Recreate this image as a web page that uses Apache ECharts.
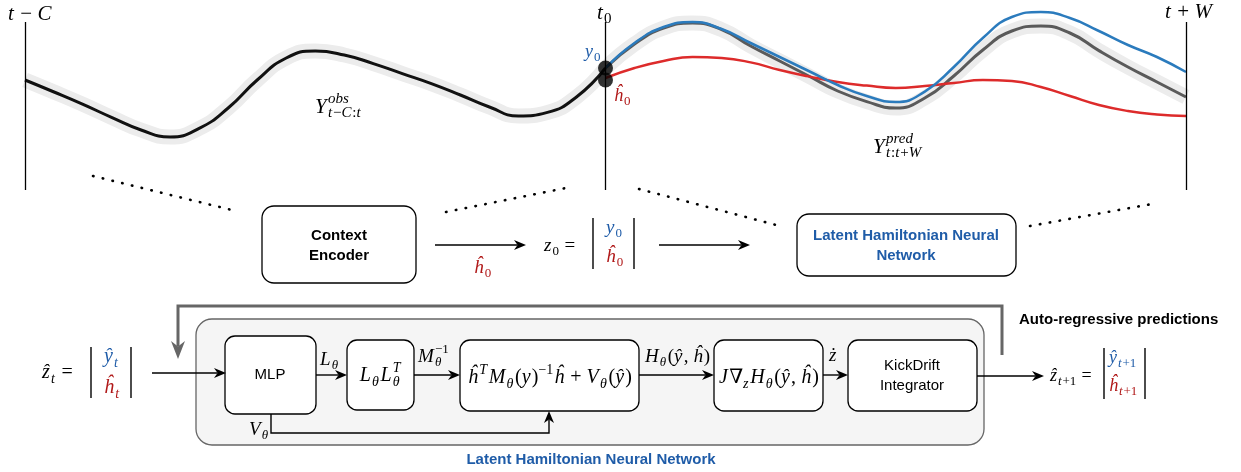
<!DOCTYPE html>
<html>
<head>
<meta charset="utf-8">
<title>Latent Hamiltonian Neural Network</title>
<script src="https://cdn.jsdelivr.net/npm/echarts@6/dist/echarts.min.js"></script>
<style>
  html, body { margin: 0; padding: 0; background: #fff; }
  #chart { width: 1241px; height: 472px; }
</style>
</head>
<body>
<div id="chart"></div>
<script>
// time runs from t-C (-100) over t0 (0) to t+W (100), sampled every 5 steps
var obsT   = [-100, -95, -90, -85, -80, -75, -70, -65, -60, -55, -50, -45, -40, -35, -30, -25, -20, -15, -10, -5, 0];
var obsY   = [0, -0.3, -0.61, -0.94, -1.25, -1.425, -1.21, -0.7, 0, 0.55, 0.725, 0.625, 0.41, 0.16, -0.09, -0.375, -0.675, -0.9, -0.81, -0.425, 0.3];

var predT  = [0, 5, 10, 15, 20, 25, 30, 35, 40, 45, 50, 55, 60, 65, 70, 75, 80, 85, 90, 95, 100];
var truthY = [0.3, 0.9, 1.3, 1.425, 1.26, 0.85, 0.475, 0.1, -0.275, -0.54, -0.7, -0.45, 0.1, 0.75, 1.225, 1.35, 1.175, 0.735, 0.325, -0.05, -0.425];
var blueY  = [0.3, 0.925, 1.325, 1.45, 1.275, 0.925, 0.575, 0.225, -0.125, -0.4, -0.55, -0.29, 0.325, 1.05, 1.575, 1.7, 1.55, 1.225, 0.875, 0.575, 0.2];
var redY   = [0.05, 0.3, 0.475, 0.575, 0.55, 0.44, 0.25, 0.09, -0.05, -0.14, -0.2, -0.15, -0.075, 0, -0.025, -0.175, -0.4, -0.625, -0.775, -0.86, -0.9];

var startT = [0, 0];
var startY = [0.3, 0.0];          // y0 and h0 at t0
var markerT = [-100, 0, 100];     // t-C, t0, t+W
var markerTop = 1.45, markerBottom = -2.75;

var BLUE = '#2b7bbd', RED = '#dd2b2b', GREY = '#5a5a5a';
var TBLUE = '#1f5ca8', TRED = '#b01818';
var SERIF = '"Liberation Serif","DejaVu Serif",serif';
var SANS = '"Liberation Sans",Arial,sans-serif';

function zip(a, b) { return a.map(function (v, i) { return [v, b[i]]; }); }

// --- tiny math-label layout (letters italic, rest upright) ---
var ctx = document.createElement('canvas').getContext('2d');
function mw(font, s) { ctx.font = font; return ctx.measureText(s).width; }
function runs(s) {
  var out = [], cur = '', curIt = null;
  for (var ch of s) {
    var it = /[A-Za-z\u0370-\u03ff\u00c0-\u024f\u1e00-\u1eff]/.test(ch);
    if (curIt === null || it === curIt) { cur += ch; curIt = it; }
    else { out.push([cur, curIt]); cur = ch; curIt = it; }
  }
  if (cur) out.push([cur, curIt]);
  return out;
}
function fontOf(it, size) { return (it ? 'italic ' : '') + size + 'px ' + SERIF; }
function math(x, y, parts, size, color, align) {
  var items = [], cx = 0, small = Math.round(size * 0.7);
  function put(s, sz, dy) {
    var w = 0, rs = runs(s);
    rs.forEach(function (r, i) {
      var f = fontOf(r[1], sz);
      items.push({ t: r[0], f: f, x: cx + w, dy: dy });
      w += mw(f, r[0]);
      if (r[1]) w += sz * 0.06;   // italic correction
    });
    return w;
  }
  parts.forEach(function (p) {
    if (typeof p === 'string') { cx += put(p, size, 0); }
    else {
      var w1 = p.p ? put(p.p, small, -0.4 * size) : 0;
      var w2 = p.b ? put(p.b, small, 0.3 * size) : 0;
      cx += Math.max(w1, w2) + size * 0.04;
    }
  });
  var x0 = align === 'center' ? x - cx / 2 : x;
  return items.map(function (it) {
    return { type: 'text', x: x0 + it.x, y: y + it.dy, silent: true, z: 20,
      style: { text: it.t, font: it.f, fill: color || '#000', align: 'left', verticalAlign: 'middle' } };
  });
}
function label(x, y, s, font, color, align) {
  return { type: 'text', x: x, y: y, silent: true, z: 20,
    style: { text: s, font: font, fill: color || '#000', align: align || 'center', verticalAlign: 'middle' } };
}
function box(x, y, w, h, r, fill, stroke, lw) {
  return { type: 'rect', silent: true, z: 5, shape: { x: x, y: y, width: w, height: h, r: r },
    style: { fill: fill || '#fff', stroke: stroke || '#000', lineWidth: lw || 1.3 } };
}
function seg(x1, y1, x2, y2, style) {
  return { type: 'line', silent: true, z: 6, shape: { x1: x1, y1: y1, x2: x2, y2: y2 }, style: style };
}
function dots(x1, y1, x2, y2) {
  return seg(x1, y1, x2, y2, { stroke: '#000', lineWidth: 2.6, lineDash: [0.5, 9.5], lineCap: 'round' });
}
function bar(x, y1, y2) { return seg(x, y1, x, y2, { stroke: '#000', lineWidth: 1.4 }); }
function arrow(pts, color, lw, hl, hw) {
  var n = pts.length, a = pts[n - 2], b = pts[n - 1];
  var dx = b[0] - a[0], dy = b[1] - a[1], L = Math.sqrt(dx * dx + dy * dy), ux = dx / L, uy = dy / L;
  var bx = b[0] - ux * hl, by = b[1] - uy * hl;
  var nx = b[0] - ux * hl * 0.7, ny = b[1] - uy * hl * 0.7;
  var line = pts.slice(0, n - 1).concat([[nx, ny]]);
  return [
    { type: 'polyline', silent: true, z: 6, shape: { points: line }, style: { stroke: color, lineWidth: lw, fill: null } },
    { type: 'polygon', silent: true, z: 6, shape: { points: [b, [bx - uy * hw, by + ux * hw], [nx, ny], [bx + uy * hw, by - ux * hw]] },
      style: { fill: color } }
  ];
}

var g = [];
// top labels
g = g.concat(math(8, 14, ['t − C'], 21));
g = g.concat(math(597, 13, ['t', { b: '0' }], 21));
g = g.concat(math(1165, 12, ['t + W'], 21));
g = g.concat(math(585, 52, ['y', { b: '0' }], 18, TBLUE));
g = g.concat(math(614, 96, ['ĥ', { b: '0' }], 18, TRED));
g = g.concat(math(315, 107, ['Y', { p: 'obs', b: 't−C:t' }], 21));
g = g.concat(math(873, 147, ['Y', { p: 'pred', b: 't:t+W' }], 21));

// dotted zoom lines
g.push(dots(93, 176, 236, 211), dots(446, 212, 571, 187), dots(639, 189, 780, 226), dots(1030, 226, 1152, 204));

// encoder row
g.push(box(262, 206, 154, 77, 12));
g.push(label(339, 236, 'Context', 'bold 15px ' + SANS), label(339, 256, 'Encoder', 'bold 15px ' + SANS));
g = g.concat(arrow([[435, 245], [526, 245]], '#000', 1.4, 12, 5));
g = g.concat(math(474, 268, ['ĥ', { b: '0' }], 19, TRED));
g = g.concat(math(544, 246, ['z', { b: '0' }, ' = '], 19));
g.push(bar(593, 218, 269), bar(634, 218, 269));
g = g.concat(math(606, 228, ['y', { b: '0' }], 19, TBLUE));
g = g.concat(math(606, 257, ['ĥ', { b: '0' }], 19, TRED));
g = g.concat(arrow([[659, 245], [750, 245]], '#000', 1.4, 12, 5));
g.push(box(797, 214, 219, 62, 12));
g.push(label(906, 236, 'Latent Hamiltonian Neural', 'bold 15px ' + SANS, TBLUE),
       label(906, 256, 'Network', 'bold 15px ' + SANS, TBLUE));

// bottom: model container
g.push(box(196, 319, 788, 126, 16, '#f5f5f5', '#666', 1.3));
g = g.concat(arrow([[1002, 355], [1002, 306], [178, 306], [178, 359]], '#666', 3, 18, 7));
g.push(label(1019, 320, 'Auto-regressive predictions', 'bold 15px ' + SANS, '#000', 'left'));
g.push(label(591, 460, 'Latent Hamiltonian Neural Network', 'bold 15px ' + SANS, TBLUE));

g = g.concat(math(42, 373, ['ẑ', { b: 't' }, ' = '], 20));
g.push(bar(91, 347, 398), bar(131, 347, 398));
g = g.concat(math(104, 357, ['ŷ', { b: 't' }], 20, TBLUE));
g = g.concat(math(104, 388, ['ĥ', { b: 't' }], 20, TRED));
g = g.concat(arrow([[152, 373], [226, 373]], '#000', 1.4, 12, 5));

g.push(box(225, 336, 91, 78, 10));
g.push(label(270, 375, 'MLP', '15px ' + SANS));
g = g.concat(arrow([[316, 375], [347, 375]], '#000', 1.4, 12, 5));
g = g.concat(math(320, 360, ['L', { b: 'θ' }], 19));
g.push(box(347, 340, 67, 70, 10));
g = g.concat(math(381, 376, ['L', { b: 'θ' }, 'L', { b: 'θ', p: 'T' }], 20, '#000', 'center'));
g = g.concat(arrow([[414, 375], [460, 375]], '#000', 1.4, 12, 5));
g = g.concat(math(418, 357, ['M', { b: 'θ', p: '−1' }], 19));
g.push(box(460, 340, 179, 71, 10));
g = g.concat(math(550, 378, ['ĥ', { p: 'T' }, 'M', { b: 'θ' }, '(y)', { p: '−1' }, 'ĥ + V', { b: 'θ' }, '(ŷ)'], 20, '#000', 'center'));
g = g.concat(arrow([[271, 414], [271, 433], [549, 433], [549, 411]], '#000', 1.4, 12, 5));
g = g.concat(math(249, 430, ['V', { b: 'θ' }], 19));
g = g.concat(arrow([[639, 375], [714, 375]], '#000', 1.4, 12, 5));
g = g.concat(math(645, 357, ['H', { b: 'θ' }, '(ŷ, ĥ)'], 19));
g.push(box(714, 340, 109, 71, 10));
g = g.concat(math(769, 378, ['J∇', { b: 'z' }, 'H', { b: 'θ' }, '(ŷ, ĥ)'], 20, '#000', 'center'));
g = g.concat(arrow([[823, 375], [848, 375]], '#000', 1.4, 12, 5));
g = g.concat(math(829, 356, ['ż'], 19));
g.push(box(848, 340, 129, 71, 10));
g.push(label(912, 366, 'KickDrift', '15px ' + SANS), label(912, 386, 'Integrator', '15px ' + SANS));
g = g.concat(arrow([[977, 376], [1044, 376]], '#000', 1.4, 12, 5));
g = g.concat(math(1050, 376, ['ẑ', { b: 't+1' }, ' ='], 18));
g.push(bar(1104, 348, 399), bar(1145, 348, 399));
g = g.concat(math(1109, 358, ['ŷ', { b: 't+1' }], 18, TBLUE));
g = g.concat(math(1109, 386, ['ĥ', { b: 't+1' }], 18, TRED));

function curve(data, color, width, z) {
  return { type: 'line', data: data, smooth: true, symbol: 'none', silent: true, z: z,
    lineStyle: { color: color, width: width } };
}

var chart = echarts.init(document.getElementById('chart'), null, { renderer: 'canvas' });
chart.setOption({
  animation: false,
  backgroundColor: '#fff',
  grid: { left: 25, top: 0, width: 1161, height: 200 },
  xAxis: { type: 'value', min: -100, max: 100, show: false },
  yAxis: { type: 'value', min: -3, max: 2, show: false },
  series: [
    // noisy observations drawn as a soft band
    curve(zip(obsT, obsY), '#ececec', 15, 1),
    curve(zip(predT, truthY), '#ececec', 15, 1),
    Object.assign(curve(zip(obsT, obsY), '#111', 3, 3), {
      markLine: {
        silent: true, symbol: ['none', 'none'], label: { show: false },
        lineStyle: { color: '#000', width: 1.3, type: 'solid' },
        data: markerT.map(function (t) { return [{ coord: [t, markerBottom] }, { coord: [t, markerTop] }]; })
      }
    }),
    curve(zip(predT, truthY), GREY, 3, 3),
    curve(zip(predT, redY), RED, 2.5, 4),
    curve(zip(predT, blueY), BLUE, 2.5, 4),
    { type: 'scatter', data: zip(startT, startY), symbolSize: 15, silent: true, z: 6,
      itemStyle: { color: '#000' } }
  ],
  graphic: g
});
</script>
</body>
</html>
